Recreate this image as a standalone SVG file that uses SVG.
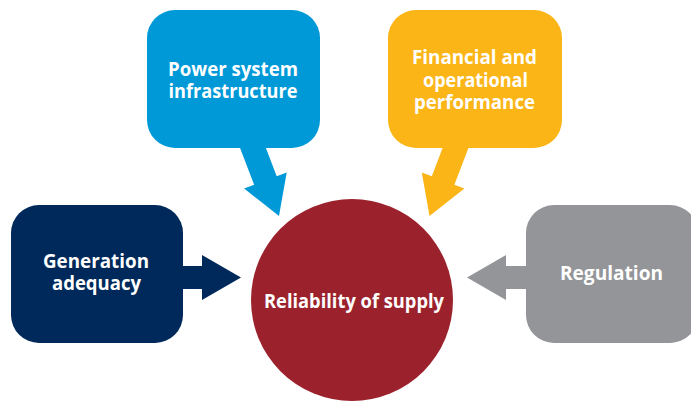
<svg xmlns="http://www.w3.org/2000/svg" width="691" height="401" viewBox="0 0 691 401">
  <style>
    .lbl { font-family: "Open Sans", "Noto Sans", "Liberation Sans", sans-serif; font-weight: bold; font-size: 19px; fill: #ffffff; text-anchor: middle; }
    .blue { fill: #0099D8; }
    .yellow { fill: #FBB517; }
    .navy { fill: #00295B; }
    .gray { fill: #939598; }
    .red { fill: #9B222C; }
  </style>
  <rect width="691" height="401" fill="#ffffff"/>
  <g id="connectors">
    <polygon class="blue" points="239.1,145.6 254.1,184.8 244.1,188.6 279,216 286.7,172.4 276.7,176.2 261.7,137"/>
    <polygon class="yellow" points="469.4,145.6 454.4,184.8 464.4,188.6 429.5,216 421.8,172.4 431.8,176.2 446.8,137"/>
    <polygon class="navy" points="175,266 202,266 202,255 241,277.5 202,300 202,289 175,289"/>
    <polygon class="gray" points="535,266 506,266 506,255 467,277.5 506,300 506,289 535,289"/>
  </g>
  <g id="power-system">
    <rect class="blue" x="147" y="10" width="173" height="138" rx="28"/>
    <text class="lbl" x="233" y="76" textLength="130" lengthAdjust="spacingAndGlyphs">Power system</text>
    <text class="lbl" x="233" y="98" textLength="129" lengthAdjust="spacingAndGlyphs">infrastructure</text>
  </g>
  <g id="financial">
    <rect class="yellow" x="388" y="10" width="174" height="138" rx="28"/>
    <text class="lbl" x="474.5" y="64" textLength="125" lengthAdjust="spacingAndGlyphs">Financial and</text>
    <text class="lbl" x="475.5" y="86.5" textLength="105" lengthAdjust="spacingAndGlyphs">operational</text>
    <text class="lbl" x="474.5" y="109" textLength="121" lengthAdjust="spacingAndGlyphs">performance</text>
  </g>
  <g id="generation">
    <rect class="navy" x="11" y="205" width="172" height="138" rx="28"/>
    <text class="lbl" x="96" y="268" textLength="106" lengthAdjust="spacingAndGlyphs">Generation</text>
    <text class="lbl" x="96.5" y="290" textLength="89" lengthAdjust="spacingAndGlyphs">adequacy</text>
  </g>
  <g id="regulation">
    <rect class="gray" x="526" y="205" width="172" height="138" rx="28"/>
    <text class="lbl" x="611.5" y="280" textLength="103" lengthAdjust="spacingAndGlyphs">Regulation</text>
  </g>
  <g id="reliability">
    <circle class="red" cx="352" cy="300" r="101"/>
    <text class="lbl" x="354" y="308" textLength="180" lengthAdjust="spacingAndGlyphs">Reliability of supply</text>
  </g>
</svg>
